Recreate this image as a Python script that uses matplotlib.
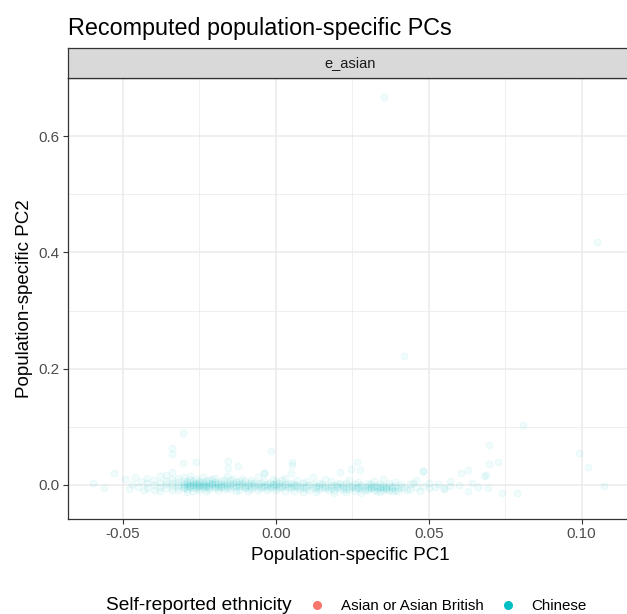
import matplotlib
matplotlib.use('Agg')
import matplotlib.pyplot as plt
from matplotlib.lines import Line2D
import numpy as np

plt.rcParams['font.family'] = ['Liberation Sans', 'DejaVu Sans']

# data (PC1, PC2) for the Chinese group
chinese_points = [
    # sparse left tail
    (-0.0598, 0.003), (-0.0563, -0.005), (-0.053, 0.020), (-0.0495, 0.011),
    (-0.047, 0.002), (-0.045, -0.004), (-0.044, 0.006), (-0.046, 0.013),
    (-0.043, -0.009), (-0.048, -0.007),
    # dense band
    (-0.042, 0.004), (-0.042, -0.006), (-0.042, 0.012),
    (-0.040, 0.000), (-0.040, 0.008), (-0.040, -0.008),
    (-0.038, 0.003), (-0.038, -0.003), (-0.038, 0.015), (-0.038, -0.010),
    (-0.036, 0.001), (-0.036, 0.006), (-0.036, -0.005), (-0.036, 0.018),
    (-0.034, -0.002), (-0.034, 0.004), (-0.034, 0.010), (-0.034, -0.008), (-0.034, 0.022),
    (-0.032, 0.000), (-0.032, 0.005), (-0.032, -0.004), (-0.032, 0.012), (-0.032, -0.009),
    (-0.030, 0.002), (-0.030, -0.003), (-0.030, 0.007), (-0.030, -0.006), (-0.030, 0.014), (-0.030, 0.000),
    (-0.029, 0.001), (-0.029, -0.002), (-0.029, 0.005), (-0.029, -0.007), (-0.029, -0.012),
    (-0.028, 0.000), (-0.028, 0.003), (-0.028, -0.004), (-0.028, 0.009), (-0.028, -0.001), (-0.028, 0.016),
    (-0.027, 0.002), (-0.027, -0.003), (-0.027, 0.006), (-0.027, 0.000), (-0.027, -0.010),
    (-0.026, -0.001), (-0.026, 0.004), (-0.026, -0.006), (-0.026, 0.001), (-0.026, 0.011),
    (-0.025, 0.000), (-0.025, 0.003), (-0.025, -0.003), (-0.025, 0.007), (-0.025, -0.001), (-0.025, -0.008),
    (-0.024, 0.001), (-0.024, -0.002), (-0.024, 0.005), (-0.024, -0.005), (-0.024, 0.000), (-0.024, 0.013),
    (-0.023, -0.001), (-0.023, 0.002), (-0.023, 0.006), (-0.023, -0.004), (-0.023, -0.011),
    (-0.022, 0.000), (-0.022, 0.004), (-0.022, -0.003), (-0.022, 0.009), (-0.022, -0.007),
    (-0.021, 0.001), (-0.021, -0.002), (-0.021, 0.003), (-0.021, 0.010),
    (-0.020, -0.001), (-0.020, 0.005), (-0.020, -0.005), (-0.020, 0.002), (-0.020, 0.012),
    (-0.019, 0.000), (-0.019, 0.003), (-0.019, -0.003), (-0.019, -0.009),
    (-0.018, 0.002), (-0.018, -0.004), (-0.018, 0.006), (-0.018, -0.001),
    (-0.017, -0.002), (-0.017, 0.001), (-0.017, 0.008), (-0.017, -0.007),
    (-0.016, 0.000), (-0.016, -0.005), (-0.016, 0.004), (-0.016, 0.015),
    (-0.015, 0.002), (-0.015, -0.002), (-0.015, -0.007), (-0.015, 0.009),
    (-0.014, -0.001), (-0.014, 0.003), (-0.014, 0.010),
    (-0.013, 0.000), (-0.013, -0.004), (-0.013, 0.005), (-0.013, -0.010),
    (-0.012, 0.001), (-0.012, -0.002), (-0.012, -0.008), (-0.012, 0.007),
    (-0.011, -0.001), (-0.011, 0.004), (-0.011, 0.011),
    (-0.010, 0.000), (-0.010, -0.003), (-0.010, 0.006), (-0.010, -0.006),
    (-0.009, 0.002), (-0.009, -0.001), (-0.009, -0.010),
    (-0.008, -0.002), (-0.008, 0.003), (-0.008, 0.009), (-0.008, -0.007),
    (-0.007, 0.000), (-0.007, -0.004), (-0.007, 0.004),
    (-0.006, 0.001), (-0.006, -0.002), (-0.006, 0.014), (-0.006, -0.008),
    (-0.005, -0.001), (-0.005, 0.003), (-0.005, -0.006),
    (-0.004, 0.000), (-0.004, -0.003), (-0.004, 0.007), (-0.004, 0.020),
    (-0.003, 0.002), (-0.003, -0.002), (-0.003, -0.009),
    (-0.002, -0.001), (-0.002, 0.004), (-0.002, -0.005),
    (-0.001, 0.000), (-0.001, 0.002), (-0.001, -0.003), (-0.001, 0.010),
    (0.000, 0.001), (0.000, -0.002), (0.000, 0.006), (0.000, -0.008),
    (0.001, -0.001), (0.001, 0.003), (0.001, -0.006),
    (0.002, 0.000), (0.002, -0.004), (0.002, 0.008),
    (0.003, -0.002), (0.003, 0.002), (0.003, 0.012), (0.003, -0.010),
    (0.004, -0.003), (0.004, 0.001),
    (0.005, -0.001), (0.005, -0.006), (0.005, 0.004),
    (0.006, -0.002), (0.006, 0.002), (0.006, -0.011),
    (0.007, -0.004), (0.007, 0.000), (0.007, 0.009),
    (0.008, -0.001), (0.008, -0.007),
    (0.009, -0.003), (0.009, 0.003), (0.009, -0.012),
    (0.010, -0.002), (0.010, -0.005), (0.010, 0.006),
    (0.011, 0.000), (0.011, -0.008),
    (0.012, -0.003), (0.012, 0.002), (0.012, 0.014),
    (0.013, -0.005), (0.013, -0.001), (0.013, -0.012),
    (0.014, -0.002), (0.014, -0.007), (0.014, 0.004),
    (0.015, -0.004), (0.015, 0.001),
    (0.016, -0.001), (0.016, -0.006), (0.016, 0.010),
    (0.017, -0.003), (0.017, -0.009),
    (0.018, -0.005), (0.018, 0.000), (0.018, 0.006),
    (0.019, -0.002), (0.019, -0.008), (0.019, -0.013),
    (0.020, -0.004), (0.020, 0.002), (0.020, -0.001),
    (0.021, -0.006), (0.021, 0.004),
    (0.022, -0.003), (0.022, -0.009), (0.022, 0.000),
    (0.023, -0.005), (0.023, 0.003), (0.023, -0.012),
    (0.024, -0.002), (0.024, -0.007), (0.024, 0.008),
    (0.025, -0.004), (0.025, -0.001),
    (0.026, -0.006), (0.026, 0.001), (0.026, -0.010),
    (0.027, -0.003), (0.027, -0.005), (0.027, 0.005),
    (0.028, -0.007), (0.028, -0.002), (0.028, 0.000), (0.028, -0.013),
    (0.029, -0.004), (0.029, -0.008),
    (0.030, -0.005), (0.030, -0.002), (0.030, 0.003), (0.030, -0.009),
    (0.031, -0.006), (0.031, -0.003), (0.031, 0.001),
    (0.032, -0.004), (0.032, -0.008), (0.032, -0.001), (0.032, 0.007),
    (0.033, -0.005), (0.033, -0.002), (0.033, -0.010),
    (0.034, -0.006), (0.034, -0.003), (0.034, 0.002), (0.034, -0.012),
    (0.035, -0.004), (0.035, -0.008), (0.035, -0.001), (0.035, 0.010),
    (0.036, -0.007), (0.036, -0.003), (0.036, -0.005),
    (0.037, -0.002), (0.037, -0.009), (0.037, 0.003),
    (0.038, -0.006), (0.038, -0.004), (0.038, -0.011),
    (0.039, -0.008), (0.039, -0.002), (0.039, 0.005),
    (0.040, -0.005), (0.040, -0.010),
    (0.041, -0.003), (0.041, 0.001),
    (0.042, -0.006), (0.043, -0.009), (0.044, -0.007), (0.044, 0.002),
    (0.045, 0.004), (0.046, -0.004), (0.046, 0.008), (0.047, -0.010),
    (0.048, -0.002), (0.048, 0.024),
    (0.050, -0.006), (0.050, 0.003), (0.052, -0.003), (0.053, 0.002),
    (0.055, -0.007), (0.055, -0.005), (0.057, -0.002), (0.057, 0.006),
    (0.060, 0.000), (0.0606, 0.021), (0.063, 0.025), (0.063, -0.010),
    (0.064, 0.003), (0.066, -0.004), (0.068, 0.015), (0.0695, -0.006),
    (0.074, -0.014), (0.079, -0.014),
    # scattered points above the band
    (-0.0305, 0.089), (-0.034, 0.064), (-0.034, 0.054), (-0.0305, 0.037),
    (-0.026, 0.039), (-0.0155, 0.041), (-0.0125, 0.033), (-0.0015, 0.059),
    (0.0053, 0.040), (0.0053, 0.034), (0.0266, 0.040), (0.0245, 0.0275),
    (0.0275, 0.026), (0.021, 0.023), (0.048, 0.024), (-0.0157, 0.029),
    (-0.004, 0.020), (0.005, 0.020),
    (0.0696, 0.068), (0.0697, 0.036), (0.0727, 0.039), (0.0686, 0.017),
    (0.081, 0.103), (0.099, 0.055), (0.102, 0.031), (0.1075, -0.002),
    # outliers
    (0.0353, 0.667), (0.1052, 0.418), (0.0418, 0.222),
]
asian_british_points = []

groups = ['Asian or Asian British', 'Chinese']
group_colors = ['#F8766D', '#00BFC4']

x_ticks = [-0.05, 0.00, 0.05, 0.10]
x_tick_labels = ['-0.05', '0.00', '0.05', '0.10']
y_ticks = [0.0, 0.2, 0.4, 0.6]
y_tick_labels = ['0.0', '0.2', '0.4', '0.6']

W, H = 627, 614
fig = plt.figure(figsize=(W / 100, H / 100), dpi=100)

# panel (extends a bit past the right edge like the cropped original)
left, right, top, bottom = 68, 632, 78, 519
ax = fig.add_axes([left / W, 1 - bottom / H, (right - left) / W, (bottom - top) / H])

ax.set_xticks([-0.025, 0.025, 0.075], minor=True)
ax.set_yticks([0.1, 0.3, 0.5], minor=True)
ax.set_xticks(x_ticks)
ax.set_xticklabels(x_tick_labels)
ax.set_yticks(y_ticks)
ax.set_yticklabels(y_tick_labels)
ax.set_xlim(-0.068, 0.1165)
ax.set_ylim(-0.0585, 0.70)

ax.grid(True, which='major', color='#EBEBEB', linewidth=1.1)
ax.grid(True, which='minor', color='#EBEBEB', linewidth=0.55)
ax.set_axisbelow(True)

pts = np.array(chinese_points)
ax.scatter(pts[:, 0], pts[:, 1], s=26, facecolor=group_colors[1],
           edgecolor=group_colors[1], linewidths=0.6, alpha=0.06, zorder=3)
if asian_british_points:
    ab = np.array(asian_british_points)
    ax.scatter(ab[:, 0], ab[:, 1], s=26, color=group_colors[0], alpha=0.06, zorder=3)

ax.tick_params(which='major', length=3.5, width=0.8, color='#333333',
               labelcolor='#4D4D4D', labelsize=11, pad=2.5)
ax.tick_params(which='minor', length=0)
for s in ax.spines.values():
    s.set_color('#333333')
    s.set_linewidth(0.9)

ax.set_xlabel('Population-specific PC1', fontsize=13.5, labelpad=4)
ax.set_ylabel('Population-specific PC2', fontsize=13.5, labelpad=4)

# facet strip
strip = fig.add_axes([left / W, 1 - top / H, (right - left) / W, (top - 48) / H])
strip.set_xticks([])
strip.set_yticks([])
strip.set_facecolor('#D9D9D9')
for s in strip.spines.values():
    s.set_color('#333333')
    s.set_linewidth(0.9)
strip.text(0.5, 0.5, 'e_asian', ha='center', va='center', fontsize=10.5, color='#1A1A1A',
           transform=strip.transAxes)

fig.text(left / W, 1 - 28 / H, 'Recomputed population-specific PCs', fontsize=16.8,
         ha='left', va='center')

# legend at the bottom
fig.text(106 / W, 1 - 606 / H, 'Self-reported ethnicity', fontsize=13.8, ha='left', va='center')
handles = [Line2D([], [], marker='o', linestyle='none', markersize=5.5,
                  markerfacecolor=c, markeredgecolor=c) for c in group_colors]
fig.legend(handles, groups, loc='center left', bbox_to_anchor=(308 / W, 1 - 606 / H),
           ncol=2, frameon=False, fontsize=10.9, handlelength=1.2, handletextpad=1.0,
           columnspacing=0.95, borderaxespad=0, borderpad=0)

fig.savefig('out.png', dpi=100)
